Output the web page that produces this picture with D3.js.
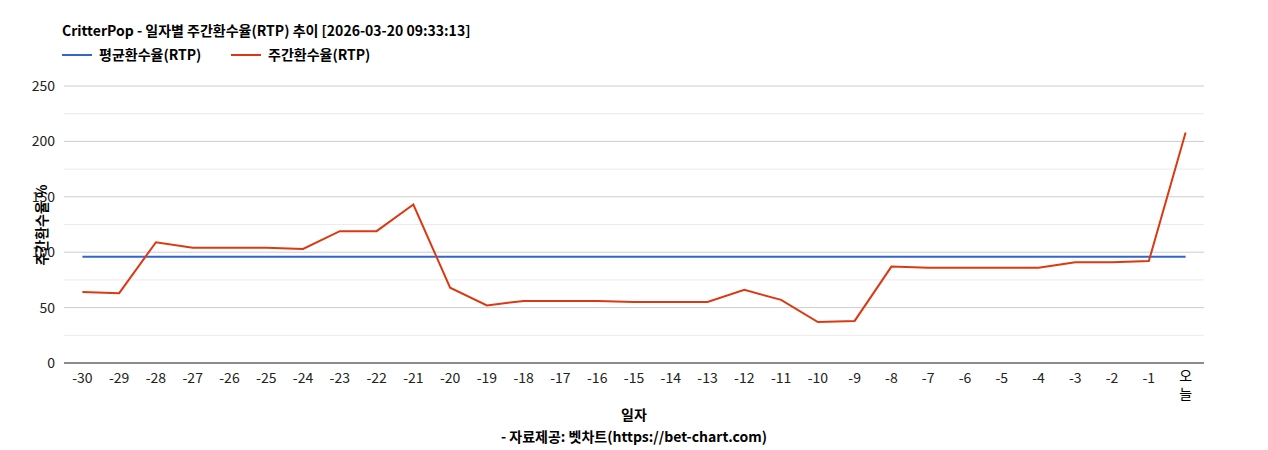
<!DOCTYPE html>
<html><head><meta charset="utf-8">
<script src="https://cdn.jsdelivr.net/npm/d3@7"></script>
<style>body{margin:0;background:#fff;font-family:"Noto Sans CJK KR","Noto Sans",sans-serif}</style>
</head><body><svg id="c" width="1268" height="450"></svg>
<script>
var categories = ["-30","-29","-28","-27","-26","-25","-24","-23","-22","-21","-20","-19","-18","-17","-16","-15","-14","-13","-12","-11","-10","-9","-8","-7","-6","-5","-4","-3","-2","-1","오늘"]
var weekly = [64,63,109,104,104,104,103,119,119,143,68,52,56,56,56,55,55,55,66,57,37,38,87,86,86,86,86,91,91,92,208]
var avgRtp = 96
var yTicks = [0,50,100,150,200,250]

var svg = d3.select("#c")
var m = {left:64, right:1204, top:86, bottom:363}
var x = d3.scaleBand().domain(categories).range([m.left, m.right])
var y = d3.scaleLinear().domain([0,250]).range([m.bottom, m.top])

// grid
d3.range(0,251,25).forEach(function(v){
  svg.append("line").attr("x1",m.left).attr("x2",m.right).attr("y1",y(v)).attr("y2",y(v))
    .attr("stroke", v%50==0 ? "#ccc" : "#ebebeb").attr("stroke-width",1)
})
svg.append("line").attr("x1",m.left).attr("x2",m.right).attr("y1",y(0)).attr("y2",y(0)).attr("stroke","#333")

yTicks.forEach(function(v){
  svg.append("text").attr("x",m.left-9).attr("y",y(v)+5).attr("text-anchor","end")
    .attr("font-size",14).attr("fill","#222").text(v)
})
categories.forEach(function(c){
  var cx = x(c)+x.bandwidth()/2
  if(c=="오늘"){
    svg.append("text").attr("x",cx).attr("y",381).attr("text-anchor","middle").attr("font-size",14).text("오")
    svg.append("text").attr("x",cx).attr("y",399).attr("text-anchor","middle").attr("font-size",14).text("늘")
  } else {
    svg.append("text").attr("x",cx).attr("y",383).attr("text-anchor","middle").attr("font-size",14).attr("fill","#222").text(c)
  }
})

var line = d3.line().x(function(d,i){return x(categories[i])+x.bandwidth()/2}).y(function(d){return y(d)})
svg.append("path").datum(categories.map(function(){return avgRtp})).attr("d",line)
  .attr("fill","none").attr("stroke","#3366cc").attr("stroke-width",2)
svg.append("path").datum(weekly).attr("d",line)
  .attr("fill","none").attr("stroke","#dc3912").attr("stroke-width",2)

svg.append("text").attr("x",62).attr("y",36).attr("font-size",14).attr("font-weight","bold")
  .text("CritterPop - 일자별 주간환수율(RTP) 추이 [2026-03-20 09:33:13]")
svg.append("line").attr("x1",62).attr("x2",92).attr("y1",55).attr("y2",55).attr("stroke","#3366cc").attr("stroke-width",2)
svg.append("text").attr("x",99).attr("y",60).attr("font-size",14).attr("font-weight","bold").text("평균환수율(RTP)")
svg.append("line").attr("x1",231).attr("x2",261).attr("y1",55).attr("y2",55).attr("stroke","#dc3912").attr("stroke-width",2)
svg.append("text").attr("x",268).attr("y",60).attr("font-size",14).attr("font-weight","bold").text("주간환수율(RTP)")

svg.append("text").attr("transform","translate(47,225) rotate(-90)").attr("text-anchor","middle")
  .attr("font-size",14).attr("font-weight","bold").text("주간환수율 %")
svg.append("text").attr("x",634).attr("y",420).attr("text-anchor","middle").attr("font-size",14).attr("font-weight","bold").text("일자")
svg.append("text").attr("x",634).attr("y",442).attr("text-anchor","middle").attr("font-size",14).attr("font-weight","bold").text("- 자료제공: 벳차트(https://bet-chart.com)")
</script></body></html>
